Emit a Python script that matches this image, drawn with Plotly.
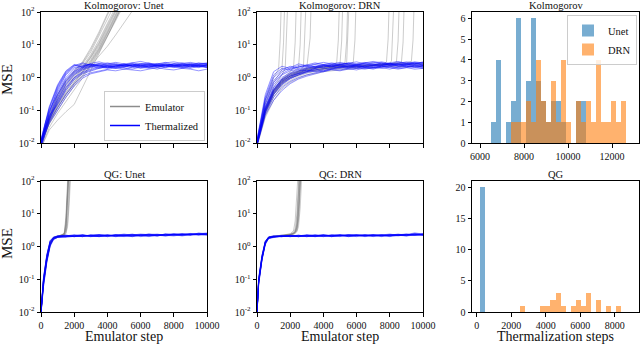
import plotly.graph_objects as go
from plotly.subplots import make_subplots

# ---------------- data ----------------
# Kolmogorov / Unet
kol_unet_steps = [0, 250, 500, 1000, 1500, 2000, 2500, 3000, 3500, 4000, 4500, 5000,
                  5500, 6000, 6500, 7000, 7500, 8000, 8500, 9000, 9500, 10000]
kol_unet_thermalized = [
    [0.010, 0.030, 0.080, 0.35, 1.0, 1.8, 2.3, 2.5, 2.2, 2.6, 2.4, 2.1, 2.5, 2.3, 2.7, 2.2, 2.4, 2.6, 2.3, 2.5, 2.2, 2.4],
    [0.008, 0.020, 0.050, 0.20, 0.60, 1.2, 1.7, 2.0, 2.4, 2.1, 2.3, 2.6, 2.2, 2.4, 2.1, 2.5, 2.3, 2.0, 2.4, 2.6, 2.3, 2.1],
    [0.012, 0.040, 0.110, 0.50, 1.4, 2.3, 2.8, 2.4, 2.7, 2.3, 2.0, 2.4, 2.8, 2.5, 2.3, 2.6, 2.9, 2.4, 2.2, 2.5, 2.8, 2.6],
    [0.009, 0.025, 0.060, 0.25, 0.75, 1.4, 1.9, 2.2, 1.9, 2.2, 2.5, 2.3, 2.0, 2.2, 2.5, 2.3, 2.1, 2.4, 2.6, 2.2, 2.0, 2.3],
    [0.010, 0.030, 0.070, 0.15, 0.40, 0.85, 1.3, 1.6, 1.9, 2.1, 1.9, 2.2, 2.4, 2.1, 1.9, 2.2, 2.4, 2.2, 2.0, 2.3, 2.5, 2.2],
    [0.011, 0.035, 0.090, 0.40, 1.2, 2.0, 2.2, 2.6, 2.3, 2.0, 2.3, 2.5, 2.2, 2.6, 2.4, 2.1, 2.3, 2.5, 2.8, 2.4, 2.2, 2.5],
    [0.007, 0.018, 0.045, 0.12, 0.30, 0.65, 1.1, 1.4, 1.6, 1.8, 2.0, 1.8, 2.1, 2.3, 2.0, 1.8, 2.1, 2.3, 2.1, 1.9, 2.2, 2.0],
    [0.010, 0.028, 0.065, 0.30, 0.90, 1.6, 2.1, 2.3, 2.6, 2.4, 2.7, 2.3, 2.6, 2.2, 2.5, 2.7, 2.4, 2.2, 2.5, 2.7, 2.4, 2.6],
    [0.013, 0.045, 0.130, 0.60, 1.6, 2.5, 2.2, 2.5, 2.1, 2.4, 2.2, 2.6, 2.3, 2.0, 2.2, 2.4, 2.2, 2.7, 2.4, 2.1, 2.4, 2.3],
    [0.009, 0.022, 0.055, 0.18, 0.50, 1.0, 1.5, 1.8, 2.1, 1.9, 2.2, 2.0, 1.8, 2.1, 2.3, 2.0, 2.3, 2.1, 1.9, 2.1, 2.3, 2.0],
    [0.010, 0.032, 0.085, 0.45, 1.3, 2.2, 2.6, 2.3, 2.5, 2.8, 2.5, 2.2, 2.4, 2.7, 2.5, 2.3, 2.6, 2.4, 2.2, 2.4, 2.7, 2.5],
    [0.008, 0.020, 0.040, 0.10, 0.25, 0.55, 0.95, 1.3, 1.5, 1.7, 1.6, 1.8, 1.7, 1.6, 1.8, 2.0, 1.8, 1.7, 1.9, 1.8, 1.6, 1.8],
    [0.011, 0.038, 0.100, 0.30, 0.80, 1.5, 2.0, 2.7, 3.0, 2.6, 2.9, 2.6, 2.8, 3.1, 2.7, 2.5, 2.8, 3.0, 2.7, 2.9, 2.6, 2.8],
    [0.010, 0.027, 0.060, 0.22, 0.65, 1.3, 1.8, 2.1, 2.3, 2.0, 2.2, 2.4, 2.6, 2.3, 2.1, 2.3, 2.0, 2.2, 2.4, 2.1, 2.3, 2.2],
    [0.012, 0.042, 0.120, 0.55, 1.5, 2.4, 2.0, 2.2, 2.4, 2.2, 1.9, 2.1, 2.3, 2.5, 2.8, 2.4, 2.6, 2.3, 2.1, 2.3, 2.5, 2.7],
    [0.009, 0.024, 0.050, 0.16, 0.45, 0.95, 1.4, 1.7, 2.0, 2.3, 2.1, 2.4, 2.2, 1.9, 2.1, 2.2, 2.5, 2.3, 2.6, 2.4, 2.1, 2.4],
]
kol_unet_emu_steps = [0, 250, 500, 1000, 1500, 2000, 2500, 3000, 3500, 4000, 4500, 5000, 5500, 6000]
kol_unet_emulator = [
    [0.010, 0.025, 0.055, 0.20, 0.55, 1.1, 2.0, 4.5, 12, 40, 130, 400, 1000, 3000],
    [0.009, 0.020, 0.045, 0.15, 0.40, 0.85, 1.6, 3.5, 9, 28, 90, 300, 900, 2500],
    [0.010, 0.028, 0.060, 0.25, 0.70, 1.4, 2.6, 6, 18, 60, 200, 600, 2000, 5000],
    [0.008, 0.018, 0.040, 0.12, 0.30, 0.65, 1.3, 2.8, 7, 20, 60, 180, 600, 2000],
    [0.011, 0.030, 0.070, 0.28, 0.75, 1.5, 2.8, 7, 22, 80, 250, 800, 2500, 8000],
    [0.009, 0.022, 0.050, 0.17, 0.45, 0.95, 1.8, 4, 10, 32, 100, 320, 1000, 3000],
    [0.010, 0.024, 0.048, 0.14, 0.35, 0.75, 1.5, 3.2, 8, 24, 75, 240, 800, 2500],
    [0.007, 0.015, 0.030, 0.08, 0.18, 0.40, 0.9, 2.2, 6, 18, 55, 170, 500, 1500],
    [0.010, 0.026, 0.058, 0.22, 0.60, 1.2, 2.2, 5, 14, 45, 150, 450, 1500, 4500],
    [0.008, 0.019, 0.038, 0.10, 0.25, 0.55, 1.1, 2.5, 6.5, 19, 58, 190, 600, 2000],
    [0.012, 0.032, 0.075, 0.30, 0.80, 1.6, 3.0, 8, 25, 90, 300, 900, 3000, 9000],
    [0.009, 0.021, 0.044, 0.13, 0.33, 0.70, 1.4, 3.0, 7.5, 22, 70, 220, 700, 2200],
    [0.007, 0.014, 0.025, 0.05, 0.09, 0.15, 0.5, 1.8, 6, 20, 65, 200, 650, 2000],
    [0.010, 0.023, 0.052, 0.18, 0.50, 1.0, 1.9, 4.2, 11, 35, 110, 350, 1100, 3500],
    [0.009, 0.020, 0.042, 0.12, 0.30, 0.60, 1.2, 2.3, 4.5, 9, 20, 45, 100, 250],
]

# Kolmogorov / DRN
kol_drn_steps = [0, 250, 500, 1000, 1500, 2000, 2500, 3000, 3500, 4000, 4500, 5000,
                 5500, 6000, 6500, 7000, 7500, 8000, 8500, 9000, 9500, 10000]
kol_drn_thermalized = [
    [0.010, 0.040, 0.15, 0.60, 1.2, 1.6, 1.8, 2.0, 2.2, 2.0, 2.3, 2.5, 2.2, 2.4, 2.6, 2.3, 2.5, 2.7, 2.4, 2.6, 2.3, 2.5],
    [0.009, 0.030, 0.10, 0.35, 0.70, 1.0, 1.3, 1.5, 1.7, 1.9, 1.8, 2.1, 2.3, 2.0, 2.2, 2.4, 2.1, 2.3, 2.5, 2.2, 2.0, 2.3],
    [0.012, 0.060, 0.25, 1.2, 1.9, 1.7, 2.1, 2.4, 2.1, 2.5, 2.8, 2.5, 2.7, 3.0, 2.6, 2.4, 2.8, 2.5, 2.7, 3.0, 2.8, 2.6],
    [0.010, 0.035, 0.12, 0.45, 0.85, 1.2, 1.5, 1.8, 2.0, 2.3, 2.1, 1.9, 2.2, 2.4, 2.2, 2.0, 2.3, 2.6, 2.3, 2.1, 2.4, 2.2],
    [0.008, 0.025, 0.08, 0.25, 0.50, 0.75, 1.0, 1.2, 1.4, 1.6, 1.8, 1.7, 1.9, 2.1, 1.9, 2.2, 2.0, 1.8, 2.1, 2.3, 2.1, 1.9],
    [0.011, 0.050, 0.20, 0.80, 1.5, 2.0, 2.6, 2.3, 2.6, 2.9, 2.6, 2.4, 2.7, 2.5, 2.8, 3.1, 2.8, 2.6, 2.9, 2.7, 3.0, 2.8],
    [0.010, 0.038, 0.13, 0.50, 1.0, 1.4, 1.7, 1.6, 1.9, 2.2, 2.5, 2.2, 2.0, 2.3, 2.1, 2.4, 2.7, 2.4, 2.2, 2.5, 2.7, 2.4],
    [0.009, 0.028, 0.09, 0.30, 0.60, 0.90, 1.2, 1.4, 1.6, 1.5, 1.8, 2.0, 1.8, 1.7, 2.0, 1.9, 2.2, 2.0, 1.8, 2.0, 2.2, 2.0],
    [0.013, 0.070, 0.30, 1.5, 2.2, 1.9, 2.3, 2.1, 2.5, 2.3, 2.1, 2.5, 2.8, 2.6, 2.3, 2.6, 2.4, 2.8, 3.1, 2.7, 2.5, 2.9],
    [0.010, 0.033, 0.11, 0.40, 0.80, 1.1, 1.4, 1.7, 1.5, 1.8, 2.1, 2.4, 2.1, 1.9, 2.3, 2.0, 2.2, 2.1, 2.4, 2.6, 2.3, 2.1],
    [0.008, 0.022, 0.07, 0.20, 0.40, 0.65, 0.90, 1.1, 1.3, 1.5, 1.7, 1.6, 1.8, 1.9, 1.8, 2.0, 1.9, 2.1, 1.9, 2.0, 1.8, 1.9],
    [0.011, 0.045, 0.17, 0.70, 1.3, 1.8, 2.1, 2.5, 2.8, 2.5, 2.3, 2.7, 2.4, 2.2, 2.5, 2.7, 3.0, 2.7, 2.5, 2.8, 2.6, 3.0],
    [0.010, 0.036, 0.12, 0.42, 0.90, 1.3, 1.6, 1.9, 2.2, 2.5, 2.2, 2.0, 2.3, 2.6, 2.9, 2.5, 2.3, 2.6, 2.2, 2.4, 2.7, 2.4],
    [0.009, 0.030, 0.09, 0.32, 0.65, 0.95, 1.2, 1.5, 1.8, 1.6, 1.9, 2.2, 2.0, 2.3, 2.0, 1.8, 2.1, 2.3, 2.6, 2.3, 2.1, 2.2],
    [0.012, 0.055, 0.22, 1.0, 1.7, 2.2, 1.9, 2.2, 2.0, 2.3, 2.6, 2.9, 2.6, 2.4, 2.7, 2.9, 2.6, 2.4, 2.7, 2.5, 2.9, 2.7],
    [0.010, 0.032, 0.10, 0.38, 0.75, 1.1, 1.3, 1.6, 1.9, 2.1, 2.4, 2.2, 2.5, 2.2, 2.0, 2.2, 2.4, 2.2, 2.0, 2.2, 2.5, 2.3],
]
kol_drn_emu_steps = [
    [0, 250, 500, 1000, 1300, 1400, 1500],
    [0, 250, 500, 1000, 1500, 1600, 1700],
    [0, 250, 500, 1000, 1500, 1700, 1800, 1900],
    [0, 250, 500, 1000, 1500, 2000, 2200, 2300, 2400],
    [0, 250, 500, 1000, 1500, 2000, 2500, 2600, 2700],
    [0, 250, 500, 1000, 1500, 2000, 2500, 2800, 2900, 3000],
    [0, 250, 500, 1000, 1500, 2000, 2500, 3000, 3200, 3300],
    [0, 250, 500, 1000, 1500, 2000, 2500, 3000, 3500, 4000, 4500, 4800, 4900, 5000],
    [0, 250, 500, 1000, 1500, 2000, 2500, 3000, 3500, 4000, 4500, 5000, 5100, 5200],
    [0, 250, 500, 1000, 1500, 2000, 2500, 3000, 3500, 4000, 4500, 5000, 5400, 5500, 5600],
    [0, 250, 500, 1000, 1500, 2000, 2500, 3000, 3500, 4000, 4500, 5000, 5500, 5800, 5900, 6000],
    [0, 250, 500, 1000, 1500, 2000, 2500, 3000, 3500, 4000, 4500, 5000, 5300, 5400, 5500],
    [0, 250, 500, 1000, 1500, 2000, 2500, 3000, 4000, 5000, 6000, 7000, 7600, 7800, 7900, 8000],
    [0, 250, 500, 1000, 1500, 2000, 2500, 3000, 4000, 5000, 6000, 7000, 8000, 8100, 8200, 8300],
    [0, 250, 500, 1000, 1500, 2000, 2500, 3000, 4000, 5000, 6000, 7000, 8000, 8400, 8500, 8600],
    [0, 250, 500, 1000, 1500, 2000, 2500, 3000, 4000, 5000, 6000, 7000, 8000, 8700, 8800, 8900],
    [0, 250, 500, 1000, 1500, 2000, 2500, 3000, 4000, 5000, 6000, 7000, 8000, 9000, 9300, 9400, 9500],
    [0, 250, 500, 1000, 1500, 2000, 2500, 3000, 4000, 5000, 6000, 7000, 8000, 9000, 10000],
    [0, 250, 500, 1000, 1500, 2000, 2500, 3000, 4000, 5000, 6000, 7000, 8000, 9000, 10000],
    [0, 250, 500, 1000, 1500, 2000, 2500, 3000, 4000, 5000, 6000, 7000, 8000, 9000, 10000],
]
kol_drn_emulator = [
    [0.010, 0.05, 0.20, 1.0, 1.8, 15, 900],
    [0.010, 0.04, 0.15, 0.7, 1.7, 12, 700],
    [0.009, 0.035, 0.12, 0.5, 1.2, 1.9, 14, 800],
    [0.009, 0.030, 0.10, 0.4, 0.9, 1.5, 2.0, 12, 700],
    [0.010, 0.032, 0.10, 0.38, 0.8, 1.3, 2.0, 10, 600],
    [0.009, 0.027, 0.08, 0.30, 0.65, 1.0, 1.5, 2.1, 13, 800],
    [0.010, 0.030, 0.09, 0.33, 0.7, 1.1, 1.6, 2.0, 16, 900],
    [0.009, 0.030, 0.09, 0.35, 0.75, 1.1, 1.4, 1.7, 2.0, 2.2, 2.4, 2.8, 14, 800],
    [0.010, 0.033, 0.10, 0.40, 0.85, 1.3, 1.6, 1.9, 2.1, 2.3, 2.2, 2.6, 13, 700],
    [0.009, 0.028, 0.085, 0.30, 0.6, 0.95, 1.2, 1.5, 1.7, 1.9, 2.1, 2.3, 2.7, 15, 900],
    [0.010, 0.030, 0.095, 0.36, 0.75, 1.1, 1.4, 1.7, 2.0, 2.2, 2.0, 2.3, 2.5, 2.9, 14, 800],
    [0.010, 0.034, 0.11, 0.42, 0.9, 1.3, 1.6, 1.9, 2.1, 1.9, 2.2, 2.4, 2.8, 13, 700],
    [0.009, 0.030, 0.09, 0.35, 0.7, 1.0, 1.3, 1.6, 1.9, 2.1, 2.3, 2.4, 2.6, 3.0, 15, 900],
    [0.010, 0.032, 0.10, 0.38, 0.8, 1.2, 1.5, 1.8, 2.0, 2.2, 2.1, 2.4, 2.7, 3.2, 16, 900],
    [0.009, 0.027, 0.08, 0.30, 0.65, 0.95, 1.2, 1.5, 1.8, 2.0, 2.2, 2.3, 2.5, 3.0, 13, 700],
    [0.010, 0.030, 0.095, 0.36, 0.75, 1.1, 1.4, 1.7, 2.1, 2.3, 2.1, 2.4, 2.6, 2.9, 12, 700],
    [0.010, 0.033, 0.10, 0.40, 0.85, 1.2, 1.5, 1.8, 2.0, 2.3, 2.5, 2.3, 2.6, 2.8, 3.1, 14, 800],
    [0.008, 0.022, 0.06, 0.20, 0.45, 0.7, 0.95, 1.2, 1.5, 1.7, 1.9, 2.0, 2.2, 2.1, 2.3],
    [0.010, 0.030, 0.09, 0.32, 0.7, 1.0, 1.3, 1.5, 1.8, 2.0, 2.2, 2.4, 2.3, 2.5, 2.4],
    [0.009, 0.025, 0.07, 0.25, 0.55, 0.8, 1.1, 1.35, 1.7, 1.9, 2.1, 2.3, 2.5, 2.6, 2.7],
]

# QG / Unet
qg_unet_steps = [0, 150, 350, 550, 750, 1000, 1500, 2000, 2500, 3000, 3500, 4000,
                 4500, 5000, 5500, 6000, 6500, 7000, 7500, 8000, 8500, 9000, 9500, 10000]
qg_unet_thermalized = [
    [0.010, 0.09, 0.45, 1.3, 1.8, 2.0, 2.1, 2.0, 2.2, 2.1, 2.0, 2.2, 2.1, 2.3, 2.2, 2.1, 2.3, 2.2, 2.4, 2.2, 2.3, 2.5, 2.3, 2.4],
    [0.010, 0.07, 0.38, 1.1, 1.7, 1.9, 2.0, 2.2, 2.0, 2.1, 2.3, 2.1, 2.2, 2.0, 2.2, 2.3, 2.1, 2.3, 2.2, 2.4, 2.3, 2.2, 2.4, 2.3],
    [0.011, 0.11, 0.55, 1.5, 1.9, 2.1, 2.2, 2.1, 2.3, 2.0, 2.2, 2.0, 2.3, 2.2, 2.1, 2.3, 2.2, 2.1, 2.3, 2.3, 2.5, 2.3, 2.5, 2.4],
    [0.009, 0.06, 0.32, 1.0, 1.6, 1.9, 2.1, 2.0, 2.1, 2.2, 2.1, 2.3, 2.0, 2.2, 2.3, 2.2, 2.4, 2.2, 2.1, 2.3, 2.2, 2.4, 2.3, 2.5],
    [0.010, 0.08, 0.42, 1.2, 1.8, 2.0, 1.9, 2.1, 2.2, 2.0, 2.1, 2.2, 2.2, 2.1, 2.0, 2.2, 2.3, 2.4, 2.2, 2.3, 2.4, 2.3, 2.2, 2.3],
    [0.010, 0.10, 0.50, 1.4, 1.9, 2.0, 2.1, 2.3, 2.1, 2.2, 2.0, 2.1, 2.3, 2.2, 2.4, 2.1, 2.2, 2.3, 2.1, 2.2, 2.4, 2.2, 2.6, 2.4],
    [0.009, 0.07, 0.36, 1.1, 1.7, 2.0, 2.0, 2.1, 2.0, 2.3, 2.2, 2.0, 2.1, 2.3, 2.1, 2.2, 2.0, 2.2, 2.4, 2.3, 2.1, 2.3, 2.4, 2.2],
    [0.011, 0.09, 0.48, 1.3, 1.8, 2.1, 2.2, 2.0, 2.2, 2.1, 2.3, 2.2, 2.0, 2.1, 2.2, 2.4, 2.3, 2.1, 2.3, 2.5, 2.3, 2.4, 2.3, 2.5],
    [0.010, 0.08, 0.40, 1.2, 1.75, 1.95, 2.0, 2.2, 2.1, 2.0, 2.2, 2.3, 2.1, 2.2, 2.3, 2.0, 2.2, 2.3, 2.2, 2.1, 2.3, 2.5, 2.4, 2.3],
    [0.010, 0.10, 0.52, 1.4, 1.85, 2.05, 2.1, 2.0, 2.1, 2.2, 2.1, 2.1, 2.2, 2.4, 2.2, 2.3, 2.1, 2.2, 2.3, 2.2, 2.4, 2.3, 2.5, 2.4],
    [0.009, 0.06, 0.34, 1.05, 1.65, 1.9, 2.0, 2.1, 2.3, 2.1, 2.0, 2.2, 2.2, 2.1, 2.3, 2.2, 2.4, 2.3, 2.2, 2.4, 2.2, 2.3, 2.4, 2.6],
    [0.011, 0.11, 0.56, 1.5, 1.95, 2.1, 2.2, 2.1, 2.0, 2.2, 2.3, 2.1, 2.3, 2.2, 2.0, 2.2, 2.3, 2.1, 2.4, 2.3, 2.2, 2.4, 2.3, 2.4],
]
qg_unet_emu_steps = [0, 150, 350, 550, 750, 1000, 1200, 1400, 1500, 1600, 1700, 1800, 1900]
qg_unet_emulator = [
    [0.010, 0.09, 0.45, 1.3, 1.8, 2.0, 2.1, 2.5, 6, 60, 800, 5000, 20000],
    [0.010, 0.08, 0.40, 1.2, 1.8, 2.0, 2.1, 2.3, 3.5, 20, 250, 3000, 20000],
    [0.011, 0.10, 0.50, 1.4, 1.9, 2.1, 2.2, 2.4, 3.0, 9, 90, 1000, 10000],
    [0.009, 0.07, 0.36, 1.1, 1.7, 1.9, 2.0, 2.2, 2.6, 5, 40, 500, 6000],
    [0.010, 0.09, 0.46, 1.3, 1.8, 2.0, 2.2, 2.6, 8, 100, 1500, 10000, 50000],
    [0.010, 0.08, 0.42, 1.2, 1.75, 2.0, 2.1, 2.3, 3.2, 14, 150, 2000, 20000],
    [0.011, 0.10, 0.52, 1.4, 1.9, 2.05, 2.15, 2.4, 4.5, 35, 500, 6000, 50000],
    [0.009, 0.07, 0.38, 1.1, 1.7, 1.95, 2.05, 2.2, 2.5, 4, 20, 200, 2500],
    [0.010, 0.09, 0.44, 1.3, 1.8, 2.0, 2.1, 2.35, 3.8, 22, 280, 3500, 30000],
    [0.010, 0.08, 0.40, 1.2, 1.8, 2.0, 2.15, 2.5, 5, 45, 600, 7000, 60000],
]

# QG / DRN
qg_drn_steps = [0, 100, 300, 500, 700, 1000, 1500, 2000, 2500, 3000, 3500, 4000,
                4500, 5000, 5500, 6000, 6500, 7000, 7500, 8000, 8500, 9000, 9500, 10000]
qg_drn_thermalized = [
    [0.010, 0.09, 0.47, 1.35, 1.9, 2.0, 2.1, 2.0, 2.1, 2.2, 2.0, 2.1, 2.2, 2.1, 2.3, 2.2, 2.1, 2.2, 2.3, 2.2, 2.1, 2.3, 2.4, 2.3],
    [0.010, 0.08, 0.42, 1.25, 1.8, 1.95, 2.05, 2.1, 2.0, 2.1, 2.2, 2.1, 2.0, 2.2, 2.1, 2.3, 2.2, 2.1, 2.2, 2.3, 2.2, 2.2, 2.5, 2.3],
    [0.011, 0.10, 0.52, 1.45, 1.95, 2.1, 2.0, 2.2, 2.1, 2.0, 2.1, 2.3, 2.1, 2.2, 2.0, 2.2, 2.3, 2.2, 2.1, 2.2, 2.3, 2.4, 2.2, 2.4],
    [0.009, 0.07, 0.38, 1.15, 1.75, 1.9, 2.1, 2.0, 2.2, 2.1, 2.0, 2.2, 2.2, 2.1, 2.2, 2.1, 2.2, 2.3, 2.2, 2.1, 2.3, 2.2, 2.3, 2.2],
    [0.010, 0.09, 0.45, 1.3, 1.85, 2.05, 2.0, 2.1, 2.0, 2.2, 2.1, 2.0, 2.3, 2.2, 2.1, 2.2, 2.0, 2.1, 2.3, 2.4, 2.2, 2.3, 2.2, 2.3],
    [0.010, 0.085, 0.44, 1.3, 1.88, 2.0, 2.15, 2.05, 2.1, 2.0, 2.2, 2.1, 2.1, 2.3, 2.2, 2.0, 2.2, 2.2, 2.1, 2.3, 2.2, 2.1, 2.4, 2.3],
    [0.011, 0.10, 0.50, 1.4, 1.92, 2.05, 2.0, 2.2, 2.1, 2.3, 2.1, 2.2, 2.0, 2.1, 2.2, 2.3, 2.1, 2.3, 2.2, 2.0, 2.2, 2.3, 2.6, 2.4],
    [0.009, 0.075, 0.40, 1.2, 1.78, 1.95, 2.05, 2.1, 2.2, 2.0, 2.1, 2.2, 2.1, 2.0, 2.3, 2.1, 2.2, 2.1, 2.3, 2.2, 2.4, 2.2, 2.3, 2.2],
    [0.010, 0.09, 0.46, 1.35, 1.9, 2.02, 2.1, 2.0, 2.1, 2.2, 2.3, 2.0, 2.2, 2.1, 2.1, 2.2, 2.3, 2.0, 2.2, 2.1, 2.2, 2.4, 2.2, 2.3],
    [0.010, 0.08, 0.43, 1.28, 1.84, 2.0, 2.05, 2.15, 2.0, 2.1, 2.2, 2.3, 2.1, 2.2, 2.0, 2.1, 2.2, 2.3, 2.1, 2.2, 2.3, 2.1, 2.3, 2.4],
    [0.009, 0.07, 0.39, 1.18, 1.76, 1.92, 2.0, 2.1, 2.2, 2.1, 2.0, 2.1, 2.2, 2.3, 2.1, 2.2, 2.1, 2.2, 2.0, 2.3, 2.2, 2.3, 2.4, 2.2],
    [0.011, 0.11, 0.54, 1.48, 1.96, 2.1, 2.2, 2.1, 2.0, 2.2, 2.1, 2.2, 2.0, 2.2, 2.3, 2.2, 2.1, 2.2, 2.2, 2.1, 2.3, 2.2, 2.3, 2.5],
]
qg_drn_emu_steps = [0, 100, 300, 500, 700, 1000, 1500, 2000, 2200, 2300, 2400, 2500, 2600, 2700, 2800]
qg_drn_emulator = [
    [0.010, 0.09, 0.47, 1.35, 1.9, 2.0, 2.1, 2.3, 2.5, 2.8, 4, 15, 200, 3000, 30000],
    [0.010, 0.08, 0.42, 1.3, 1.85, 2.0, 2.1, 2.25, 2.4, 2.6, 3, 6, 40, 500, 6000],
    [0.011, 0.10, 0.50, 1.4, 1.95, 2.05, 2.15, 2.4, 2.7, 3.5, 9, 80, 1000, 10000, 50000],
    [0.009, 0.07, 0.40, 1.25, 1.8, 1.95, 2.05, 2.2, 2.35, 2.5, 2.8, 4, 15, 150, 2000],
    [0.010, 0.09, 0.46, 1.35, 1.9, 2.0, 2.1, 2.35, 2.6, 3.0, 5, 30, 400, 5000, 50000],
    [0.010, 0.08, 0.44, 1.3, 1.85, 2.0, 2.15, 2.3, 2.5, 2.7, 3.5, 10, 100, 1500, 20000],
    [0.011, 0.10, 0.52, 1.4, 1.95, 2.1, 2.2, 2.45, 3.0, 6, 40, 500, 6000, 60000, 100000],
    [0.009, 0.08, 0.41, 1.28, 1.82, 1.98, 2.1, 2.25, 2.45, 2.65, 3.2, 7, 60, 800, 10000],
    [0.010, 0.09, 0.45, 1.33, 1.88, 2.02, 2.12, 2.3, 2.55, 2.9, 4.5, 20, 250, 3000, 30000],
    [0.010, 0.085, 0.43, 1.3, 1.86, 2.0, 2.1, 2.28, 2.5, 2.75, 3.8, 12, 120, 1500, 20000],
]

# Thermalization-step histograms
kol_bin_edges = [6485, 6712, 6939, 7166, 7393, 7620, 7847, 8074, 8301, 8528, 8755, 8982, 9209, 9436,
                 9663, 9890, 10117, 10344, 10571, 10798, 11025, 11252, 11479, 11706, 11933, 12160,
                 12387, 12614]
kol_unet_counts = [1, 4, 0, 1, 2, 6, 0, 3, 6, 3, 2, 1, 2, 2, 1, 0, 0, 2, 2, 0, 0, 0, 0, 0, 0, 0, 0]
kol_drn_counts = [0, 0, 0, 0, 1, 1, 1, 2, 1, 4, 2, 1, 3, 1, 4, 1, 0, 2, 1, 2, 1, 4, 1, 1, 2, 1, 2]

qg_bin_edges = [190, 482, 774, 1066, 1358, 1650, 1942, 2234, 2526, 2818, 3110, 3402, 3694, 3986,
                4278, 4570, 4862, 5154, 5446, 5738, 6030, 6322, 6614, 6906, 7198, 7490, 7782,
                8074, 8366]
qg_unet_counts = [20, 0, 0, 0, 0, 0, 0, 0, 0, 0, 0, 0, 0, 0, 0, 0, 0, 0, 0, 0, 0, 0, 0, 0, 0, 0, 0, 0]
qg_drn_counts = [0, 0, 0, 0, 0, 0, 0, 0, 1, 0, 0, 0, 1, 1, 2, 3, 1, 0, 1, 2, 1, 3, 0, 2, 0, 1, 0, 1]

line_xticks = [0, 2000, 4000, 6000, 8000, 10000]
mse_ticks = [0.01, 0.1, 1, 10, 100]
mse_ticktext = ['10<sup>-2</sup>', '10<sup>-1</sup>', '10<sup>0</sup>', '10<sup>1</sup>', '10<sup>2</sup>']

# ---------------- figure ----------------
FONT = 'Liberation Serif'
GRAY = 'rgba(128,128,128,0.4)'
BLUE = 'rgba(0,0,255,0.42)'
HIST_BLUE = '#1f77b4'
HIST_ORANGE = '#ff7f0e'

fig = make_subplots(rows=2, cols=3)


def add_lines(steps, series, color, row, col):
    for i, ys in enumerate(series):
        xs = steps[i] if isinstance(steps[0], list) else steps
        fig.add_trace(go.Scatter(x=xs, y=ys, mode='lines', line=dict(color=color, width=1),
                                 showlegend=False, hoverinfo='skip'), row=row, col=col)


add_lines(kol_unet_emu_steps, kol_unet_emulator, GRAY, 1, 1)
add_lines(kol_unet_steps, kol_unet_thermalized, BLUE, 1, 1)
add_lines(kol_drn_emu_steps, kol_drn_emulator, GRAY, 1, 2)
add_lines(kol_drn_steps, kol_drn_thermalized, BLUE, 1, 2)
add_lines(qg_unet_emu_steps, qg_unet_emulator, GRAY, 2, 1)
add_lines(qg_unet_steps, qg_unet_thermalized, BLUE, 2, 1)
add_lines(qg_drn_emu_steps, qg_drn_emulator, GRAY, 2, 2)
add_lines(qg_drn_steps, qg_drn_thermalized, BLUE, 2, 2)

# legend entries for the line panels
fig.add_trace(go.Scatter(x=[None], y=[None], mode='lines', name='Emulator',
                         line=dict(color='#8c8c8c', width=1.5), legend='legend'), row=1, col=1)
fig.add_trace(go.Scatter(x=[None], y=[None], mode='lines', name='Thermalized',
                         line=dict(color='#0000ff', width=1.5), legend='legend'), row=1, col=1)


def add_hist(edges, counts, color, name, row, col, show):
    centers = [(a + b) / 2 for a, b in zip(edges[:-1], edges[1:])]
    widths = [b - a for a, b in zip(edges[:-1], edges[1:])]
    fig.add_trace(go.Bar(x=centers, y=counts, width=widths, name=name,
                         marker=dict(color=color, line=dict(width=0)), opacity=0.6,
                         showlegend=show, legend='legend2', hoverinfo='skip'), row=row, col=col)


add_hist(kol_bin_edges, kol_unet_counts, HIST_BLUE, 'Unet', 1, 3, True)
add_hist(kol_bin_edges, kol_drn_counts, HIST_ORANGE, 'DRN', 1, 3, True)
add_hist(qg_bin_edges, qg_unet_counts, HIST_BLUE, 'Unet', 2, 3, False)
add_hist(qg_bin_edges, qg_drn_counts, HIST_ORANGE, 'DRN', 2, 3, False)

W, H = 640, 344
col_px = [(41, 207), (257, 423), (472, 639)]
row_px = [(12, 143), (181, 312)]

axis_common = dict(showline=True, mirror=True, linecolor='black', linewidth=1,
                   ticks='outside', ticklen=3.5, tickwidth=1, tickcolor='black',
                   showgrid=False, zeroline=False, automargin=False,
                   tickfont=dict(family=FONT, size=10, color='#111'))

for r in (1, 2):
    for c in (1, 2, 3):
        x0, x1 = col_px[c - 1]
        y0, y1 = row_px[r - 1]
        fig.update_xaxes(domain=[x0 / W, x1 / W], tickformat='d',
                         row=r, col=c, **axis_common)
        fig.update_yaxes(domain=[1 - y1 / H, 1 - y0 / H], row=r, col=c, **axis_common)
        if c < 3:
            fig.update_xaxes(range=[0, 10000], tickvals=line_xticks,
                             showticklabels=(r == 2), row=r, col=c)
            fig.update_yaxes(type='log', range=[-2, 2], tickvals=mse_ticks,
                             ticktext=mse_ticktext, row=r, col=c)

fig.update_xaxes(range=[5636, 13227], tickvals=[6000, 8000, 10000, 12000], row=1, col=3)
fig.update_yaxes(range=[0, 6.3], tickvals=[0, 1, 2, 3, 4, 5, 6], row=1, col=3)
fig.update_xaxes(range=[-272, 9409], tickvals=[0, 2000, 4000, 6000, 8000], row=2, col=3)
fig.update_yaxes(range=[0, 21], tickvals=[0, 5, 10, 15, 20], row=2, col=3)

titles = ['Kolmogorov: Unet', 'Kolmogorov: DRN', 'Kolmogorov', 'QG: Unet', 'QG: DRN', 'QG']
annotations = []
for i, t in enumerate(titles):
    r, c = divmod(i, 3)
    x0, x1 = col_px[c]
    y0 = row_px[r][0]
    annotations.append(dict(text=t, x=(x0 + x1) / 2 / W, y=1 - (y0 - 6.5) / H,
                            xref='paper', yref='paper', showarrow=False,
                            xanchor='center', yanchor='middle',
                            font=dict(family=FONT, size=10.5, color='#111')))
for yc in (80, 244):
    annotations.append(dict(text='MSE', x=7 / W, y=1 - yc / H, xref='paper', yref='paper',
                            showarrow=False, textangle=-90, xanchor='center', yanchor='middle',
                            font=dict(family=FONT, size=15, color='#111')))
for c, t in ((0, 'Emulator step'), (1, 'Emulator step'), (2, 'Thermalization steps')):
    x0, x1 = col_px[c]
    annotations.append(dict(text=t, x=(x0 + x1) / 2 / W, y=1 - 336 / H,
                            xref='paper', yref='paper', showarrow=False,
                            xanchor='center', yanchor='middle', borderpad=0,
                            font=dict(family=FONT, size=14, color='#111')))

fig.update_layout(
    width=W, height=H,
    margin=dict(l=0, r=0, t=0, b=0, autoexpand=False),
    plot_bgcolor='white', paper_bgcolor='white',
    barmode='overlay', bargap=0,
    annotations=annotations,
    legend=dict(x=205 / W, y=1 - 141 / H, xanchor='right', yanchor='bottom',
                bgcolor='rgba(255,255,255,0.8)', bordercolor='#cccccc', borderwidth=1,
                font=dict(family=FONT, size=10.5, color='#111'), itemwidth=30,
                tracegroupgap=0),
    legend2=dict(x=637 / W, y=1 - 15 / H, xanchor='right', yanchor='top',
                 bgcolor='rgba(255,255,255,0.8)', bordercolor='#cccccc', borderwidth=1,
                 font=dict(family=FONT, size=10.5, color='#111'), itemwidth=30,
                 tracegroupgap=0),
)

# the page's default body margin would shift the 640x344 figure out of the window
fig.write_html("out.html", config={'displayModeBar': False},
               post_script="document.body.style.margin='0';")
